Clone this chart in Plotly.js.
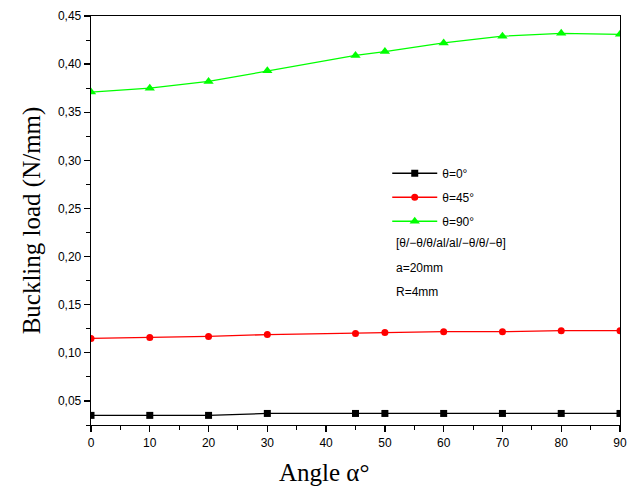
<!DOCTYPE html>
<html>
<head>
<meta charset="utf-8">
<script src="https://cdn.plot.ly/plotly-3.0.1.min.js"></script>
<style>html,body{margin:0;padding:0;background:#fff;}#chart{width:635px;height:495px;}</style>
</head>
<body>
<div id="chart"></div>
<script>
const angles = [0, 10, 20, 30, 45, 50, 60, 70, 80, 90];
const theta0 = [0.035, 0.035, 0.035, 0.037, 0.037, 0.037, 0.037, 0.037, 0.037, 0.037];
const theta45 = [0.115, 0.116, 0.117, 0.119, 0.120, 0.121, 0.122, 0.122, 0.123, 0.123];
const theta90 = [0.371, 0.375, 0.382, 0.393, 0.409, 0.413, 0.422, 0.429, 0.432, 0.431];
const seriesNames = ['θ=0°', 'θ=45°', 'θ=90°'];
const yTicks = [0.05, 0.10, 0.15, 0.20, 0.25, 0.30, 0.35, 0.40, 0.45];
const xTicks = [0, 10, 20, 30, 40, 50, 60, 70, 80, 90];
const notes = ['[θ/−θ/θ/al/al/−θ/θ/−θ]', 'a=20mm', 'R=4mm'];
const xTitle = 'Angle α°';

const traces = [
  {x: angles, y: theta0, name: seriesNames[0], legendgroup: 'g0', mode: 'lines+markers',
   line: {color: '#000000', width: 1.3}, marker: {symbol: 'square', size: 7, color: '#000000'}},
  {x: angles, y: theta45, name: seriesNames[1], legendgroup: 'g1', mode: 'lines+markers',
   line: {color: '#ff0000', width: 1.3}, marker: {symbol: 'circle', size: 7, color: '#ff0000'}},
  {x: angles, y: theta90, name: seriesNames[2], legendgroup: 'g2', mode: 'lines+markers',
   line: {color: '#00ff00', width: 1.3}, marker: {symbol: 'triangle-up', size: 9, color: '#00ff00'}}
];

const layout = {
  width: 635, height: 495,
  margin: {l: 91, r: 15, t: 16, b: 70},
  paper_bgcolor: '#ffffff', plot_bgcolor: '#ffffff',
  separators: ', ',
  showlegend: true,
  legend: {x: 0.56, y: 0.651, xanchor: 'left', yanchor: 'top', bgcolor: 'rgba(0,0,0,0)',
           font: {family: 'Arial, Liberation Sans, sans-serif', size: 12, color: '#000'},
           tracegroupgap: 5, itemwidth: 45},
  xaxis: {
    range: [0, 90], tickvals: xTicks, ticks: 'outside', ticklen: 6, tickwidth: 1.3,
    tickcolor: '#000', showline: true, linecolor: '#000', linewidth: 1.3, mirror: true,
    showgrid: false, zeroline: false,
    minor: {dtick: 5, ticks: 'outside', ticklen: 4, tickcolor: '#000', tickwidth: 1},
    tickfont: {family: 'Arial, Liberation Sans, sans-serif', size: 12, color: '#000'}
  },
  yaxis: {
    range: [0.025, 0.45], tickvals: yTicks, tickformat: '.2f', ticks: 'outside', ticklen: 6, tickwidth: 1.3,
    tickcolor: '#000', showline: true, linecolor: '#000', linewidth: 1.3, mirror: true,
    showgrid: false, zeroline: false,
    minor: {dtick: 0.025, tick0: 0.025, ticks: 'outside', ticklen: 4, tickcolor: '#000', tickwidth: 1},
    tickfont: {family: 'Arial, Liberation Sans, sans-serif', size: 12, color: '#000'},
    title: {text: 'Buckling load (N/mm)', font: {family: 'Times New Roman, Liberation Serif, serif', size: 25, color: '#000'}, standoff: 10}
  },
  annotations: notes.map((t, i) => ({
    text: t, xref: 'paper', yref: 'paper', x: 0.572, y: 0.445 - i * 0.06,
    xanchor: 'left', yanchor: 'middle', showarrow: false,
    font: {family: 'Arial, Liberation Sans, sans-serif', size: 12, color: '#000'}
  })).concat([{
    text: xTitle, xref: 'paper', yref: 'paper', x: 0.44, y: -0.115,
    xanchor: 'center', yanchor: 'middle', showarrow: false,
    font: {family: 'Times New Roman, Liberation Serif, serif', size: 25, color: '#000'}
  }])
};

Plotly.newPlot('chart', traces, layout, {displayModeBar: false, staticPlot: true});
</script>
</body>
</html>
